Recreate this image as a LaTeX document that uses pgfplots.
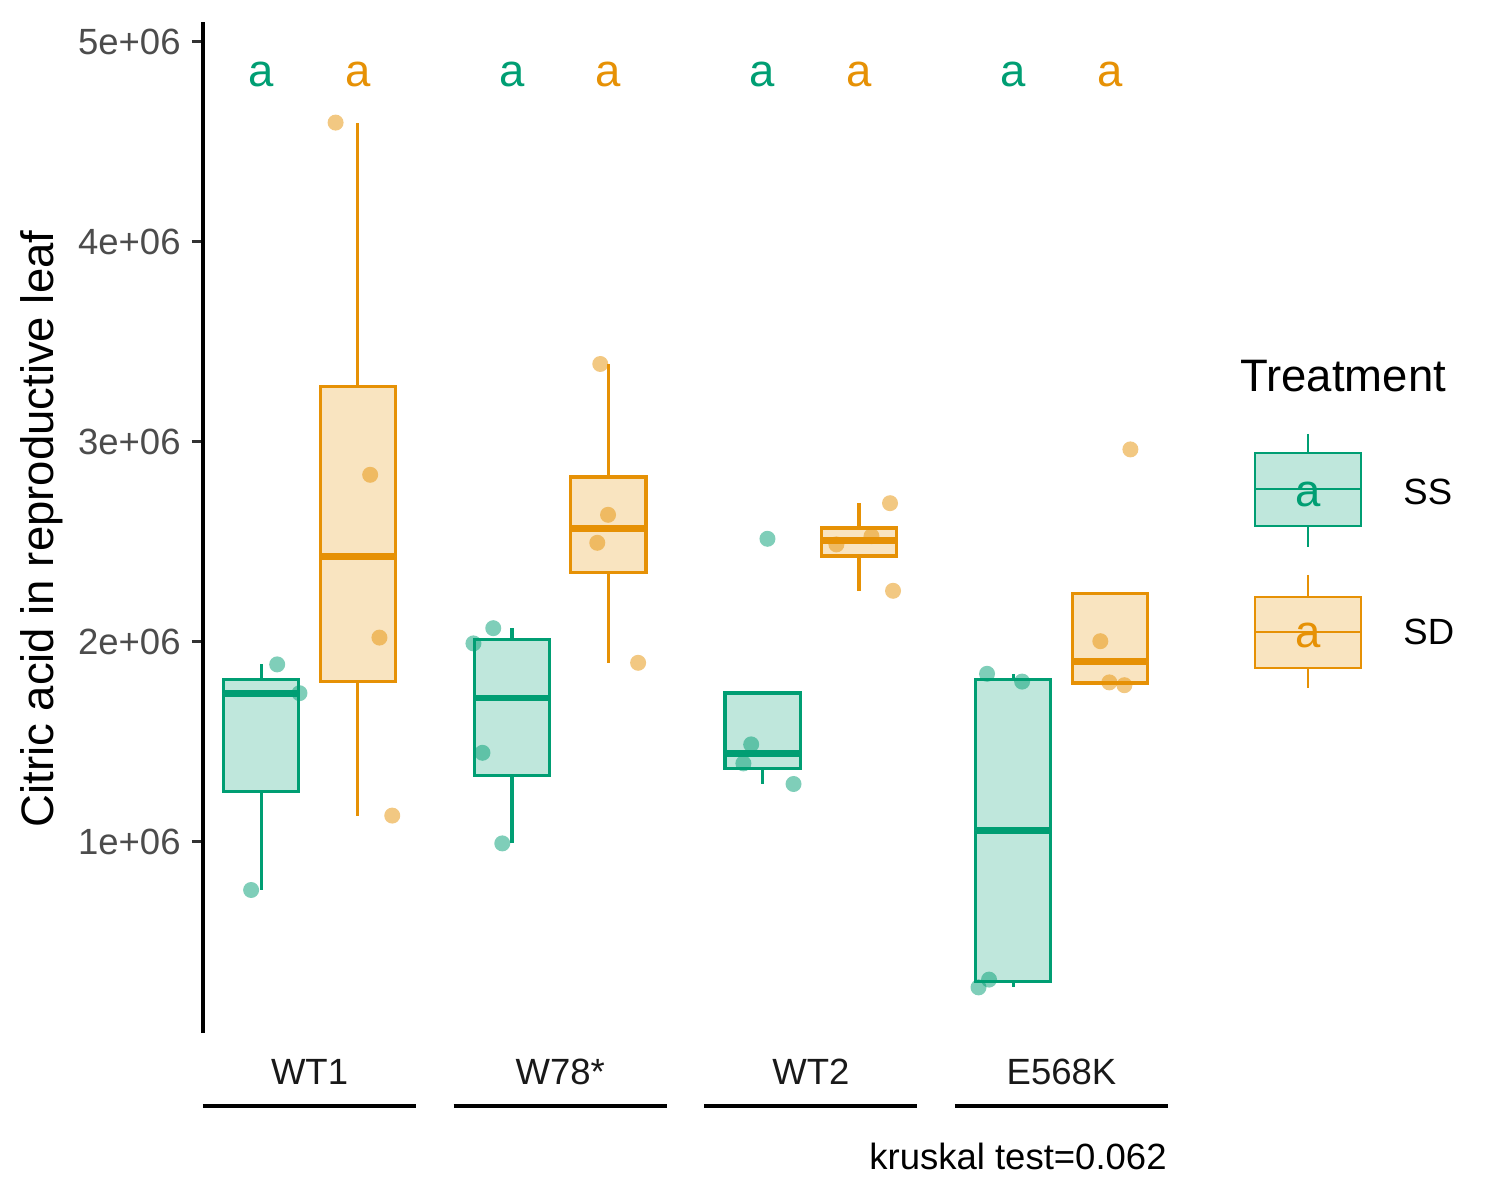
\documentclass[border=0pt]{standalone}
\usepackage{fontspec}
\setmainfont{Liberation Sans}
\usepackage{pgfplots}
\pgfplotsset{compat=1.18}
\usepgfplotslibrary{statistics}
\definecolor{ssc}{RGB}{0,158,115}
\definecolor{sdc}{RGB}{230,145,5}
\newcommand{\tickfont}{\fontsize{18.25}{20}\selectfont}
\newcommand{\titlefont}{\fontsize{22.75}{25}\selectfont}
\begin{document}
\begin{tikzpicture}
\useasboundingbox (0,0) rectangle (750pt,600pt);
\begin{axis}[
  at={(101.5pt,83.5pt)}, anchor=south west,
  scale only axis, width=482.5pt, height=505.5pt,
  xmin=0.575, xmax=4.425, ymin=0.044, ymax=5.099,
  axis lines*=left, axis line style={-},
  x axis line style={draw=none},
  y axis line style={line width=1.6pt, black},
  xtick={1,2,3,4}, xticklabels={WT1,W78*,WT2,E568K},
  xtick style={draw=none},
  xticklabel style={font=\tickfont, text=black!90, anchor=base, yshift=-20pt},
  ytick={1,2,3,4,5},
  yticklabels={1e+06,2e+06,3e+06,4e+06,5e+06},
  ytick style={draw=black!80, line width=1.6pt},
  tick align=outside, major tick length=5.5pt,
  yticklabel style={font=\tickfont, text=black!70, anchor=east, inner sep=0pt, xshift=-5.5pt},
  ylabel={Citric acid in reproductive leaf},
  every axis y label/.style={at={(axis description cs:-0.1668,0.4985)}, rotate=90, anchor=center, font=\titlefont},
  clip=false,
  boxplot/draw direction=y,
  boxplot/box extend=0.3, boxplot/whisker extend=0,
  boxplot/every median/.style={line width=3.4pt},
]
% boxes SS (values in units of 1e6)
\addplot[draw=ssc, fill=ssc!25!white, line width=1.6pt, boxplot prepared={draw position=0.8075, lower whisker=0.759, lower quartile=1.251, median=1.743, upper quartile=1.8125, upper whisker=1.887}] coordinates {};
\addplot[draw=ssc, fill=ssc!25!white, line width=1.6pt, boxplot prepared={draw position=1.8075, lower whisker=0.992, lower quartile=1.332, median=1.7185, upper quartile=2.0115, upper whisker=2.068}] coordinates {};
\addplot[draw=ssc, fill=ssc!25!white, line width=1.6pt, boxplot prepared={draw position=2.8075, lower whisker=1.289, lower quartile=1.366, median=1.440, upper quartile=1.744, upper whisker=1.744}] coordinates {};
\addplot[draw=ssc, fill=ssc!25!white, line width=1.6pt, boxplot prepared={draw position=3.8075, lower whisker=0.272, lower quartile=0.301, median=1.056, upper quartile=1.813, upper whisker=1.840}] coordinates {};
% boxes SD
\addplot[draw=sdc, fill=sdc!25!white, line width=1.6pt, boxplot prepared={draw position=1.1925, lower whisker=1.131, lower quartile=1.800, median=2.428, upper quartile=3.275, upper whisker=4.596}] coordinates {};
\addplot[draw=sdc, fill=sdc!25!white, line width=1.6pt, boxplot prepared={draw position=2.1925, lower whisker=1.895, lower quartile=2.345, median=2.565, upper quartile=2.8235, upper whisker=3.389}] coordinates {};
\addplot[draw=sdc, fill=sdc!25!white, line width=1.6pt, boxplot prepared={draw position=3.1925, lower whisker=2.255, lower quartile=2.429, median=2.5075, upper quartile=2.569, upper whisker=2.693}] coordinates {};
\addplot[draw=sdc, fill=sdc!25!white, line width=1.6pt, boxplot prepared={draw position=4.1925, lower whisker=1.783, lower quartile=1.7935, median=1.900, upper quartile=2.243, upper whisker=2.243}] coordinates {};
% jittered points
\addplot[only marks, color=ssc, mark=*, mark size=4pt, mark options={fill=ssc, draw opacity=0, fill opacity=0.5}] coordinates {
(0.871,1.887) (0.960,1.743) (0.767,0.759)
(1.733,2.068) (1.654,1.992) (1.690,1.445) (1.769,0.992)
(2.827,2.515) (2.762,1.487) (2.731,1.392) (2.931,1.289)
(3.703,1.840) (3.843,1.801) (3.711,0.311) (3.669,0.272)
};
\addplot[only marks, color=sdc, mark=*, mark size=4pt, mark options={fill=sdc, draw opacity=0, fill opacity=0.5}] coordinates {
(1.104,4.596) (1.242,2.835) (1.279,2.021) (1.330,1.131)
(2.160,3.389) (2.191,2.635) (2.148,2.495) (2.311,1.895)
(3.316,2.693) (3.242,2.528) (3.102,2.487) (3.328,2.255)
(4.275,2.962) (4.155,2.003) (4.191,1.797) (4.251,1.783)
};
% letters
\node[anchor=base, text=ssc, font=\titlefont, inner sep=0pt] at (axis cs:0.8075,4.7785) {a};
\node[anchor=base, text=ssc, font=\titlefont, inner sep=0pt] at (axis cs:1.8075,4.7785) {a};
\node[anchor=base, text=ssc, font=\titlefont, inner sep=0pt] at (axis cs:2.8075,4.7785) {a};
\node[anchor=base, text=ssc, font=\titlefont, inner sep=0pt] at (axis cs:3.8075,4.7785) {a};
\node[anchor=base, text=sdc, font=\titlefont, inner sep=0pt] at (axis cs:1.1925,4.7785) {a};
\node[anchor=base, text=sdc, font=\titlefont, inner sep=0pt] at (axis cs:2.1925,4.7785) {a};
\node[anchor=base, text=sdc, font=\titlefont, inner sep=0pt] at (axis cs:3.1925,4.7785) {a};
\node[anchor=base, text=sdc, font=\titlefont, inner sep=0pt] at (axis cs:4.1925,4.7785) {a};
% group brackets
\draw[line width=2pt, black] (axis cs:0.575,-0.3215) -- (axis cs:1.425,-0.3215);
\draw[line width=2pt, black] (axis cs:1.575,-0.3215) -- (axis cs:2.425,-0.3215);
\draw[line width=2pt, black] (axis cs:2.575,-0.3215) -- (axis cs:3.425,-0.3215);
\draw[line width=2pt, black] (axis cs:3.575,-0.3215) -- (axis cs:4.425,-0.3215);
\end{axis}
% kruskal text
\node[anchor=base east, inner sep=0pt, font=\tickfont] at (583.5pt,15.5pt) {kruskal test=0.062};
% legend
\node[anchor=base west, inner sep=0pt, font=\titlefont] at (620pt,404pt) {Treatment};
\draw[ssc, line width=1.35pt] (654pt,383pt) -- (654pt,326.5pt);
\draw[ssc, line width=1.35pt, fill=ssc!25!white] (627.5pt,337pt) rectangle (680.5pt,373.5pt);
\draw[ssc, line width=1.35pt] (627.5pt,355.5pt) -- (680.5pt,355.5pt);
\node[anchor=base, inner sep=0pt, text=ssc, font=\titlefont] at (654pt,346.5pt) {a};
\draw[sdc, line width=1.35pt] (654pt,312.5pt) -- (654pt,256pt);
\draw[sdc, line width=1.35pt, fill=sdc!25!white] (627.5pt,266pt) rectangle (680.5pt,301.5pt);
\draw[sdc, line width=1.35pt] (627.5pt,284pt) -- (680.5pt,284pt);
\node[anchor=base, inner sep=0pt, text=sdc, font=\titlefont] at (654pt,276pt) {a};
\node[anchor=base west, inner sep=0pt, font=\tickfont] at (701.5pt,347.5pt) {SS};
\node[anchor=base west, inner sep=0pt, font=\tickfont] at (701.5pt,277.5pt) {SD};
\end{tikzpicture}
\end{document}
